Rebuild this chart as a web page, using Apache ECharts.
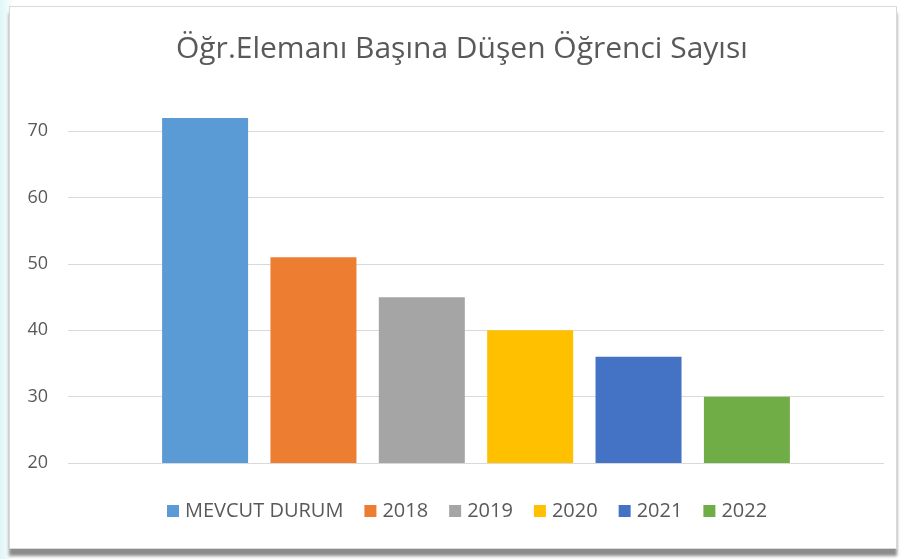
<!DOCTYPE html>
<html>
<head>
<meta charset="utf-8">
<script src="https://cdn.jsdelivr.net/npm/echarts@6/dist/echarts.min.js"></script>
<style>
    html, body { margin: 0; padding: 0; width: 902px; height: 559px; overflow: hidden; }
    body { background: linear-gradient(90deg, #dff6f8 0px, #ffffff 14px, #ffffff 100%); position: relative; }
    .frame {
        position: absolute; left: 9px; top: 6px; width: 886px; height: 541px;
        background: #fff; border: 1px solid #d9d9d9; box-shadow: 0 7px 3px #8c8c8c;
    }
    .echarts_1 { position: absolute; left: 0; top: 0; width: 902px; height: 559px; }
</style>
</head>
<body>
<div class="frame"></div>
<div class="echarts_1"></div>
<script>
    // 数据
    var titleText = 'Öğr.Elemanı Başına Düşen Öğrenci Sayısı';
    var seriesNames = ['MEVCUT DURUM', '2018', '2019', '2020', '2021', '2022'];
    var seriesValues = [72, 51, 45, 40, 36, 30];
    var seriesColors = ['#5b9bd5', '#ed7d31', '#a5a5a5', '#ffc000', '#4472c4', '#70ad47'];
    var yMin = 20, yMax = 80, yStep = 10;

    var chart = echarts.init(document.querySelector('.echarts_1'));

    var series = seriesNames.map(function (name, i) {
        return {
            name: name,
            type: 'bar',
            data: [seriesValues[i]],
            barWidth: 86,
            barGap: '26%',
            itemStyle: { color: seriesColors[i] }
        };
    });

    var option = {
        animation: false,
        textStyle: { fontFamily: 'Open Sans' },
        title: {
            text: titleText,
            left: 171,
            top: 29,
            textStyle: { fontSize: 30, fontWeight: 'normal', color: '#595959', fontFamily: 'Open Sans' }
        },
        legend: {
            data: seriesNames,
            bottom: 33,
            left: 162,
            icon: 'rect',
            itemWidth: 12,
            itemHeight: 12,
            itemGap: 21,
            textStyle: { fontSize: 20, color: '#595959', padding: [0, 0, 0, 1] }
        },
        grid: { left: 68, right: 18, top: 65, bottom: 96 },
        xAxis: {
            type: 'category',
            data: [''],
            axisLine: { show: false },
            axisTick: { show: false },
            axisLabel: { show: false }
        },
        yAxis: {
            type: 'value',
            min: yMin,
            max: yMax,
            interval: yStep,
            axisLine: { show: false },
            axisTick: { show: false },
            axisLabel: { fontSize: 18, color: '#595959', margin: 20, showMaxLabel: false },
            splitLine: { showMaxLine: false, lineStyle: { color: '#d9d9d9', width: 1 } }
        },
        series: series
    };

    chart.setOption(option);
</script>
</body>
</html>
